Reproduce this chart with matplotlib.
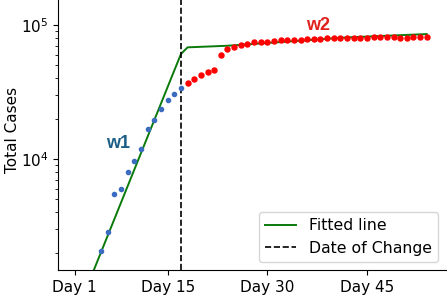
import matplotlib
matplotlib.use('Agg')
import matplotlib.pyplot as plt
import numpy as np

#####################   Data   ##################################
# wave 1 observations (days 5..17)
w1_days = [5, 6, 7, 8, 9, 10, 11, 12, 13, 14, 15, 16, 17]
w1_cases = [2056, 2851, 5450, 6012, 8040, 9710, 11870,
            16670, 19550, 23610, 27420, 30410, 34070]

# wave 2 observations (days 18..54)
w2_days = list(range(18, 55))
w2_cases = [36710, 39540, 42340, 44400, 46100, 59700, 66200, 68200, 70500,
            72500, 74200, 74600, 75060, 75530, 76840, 76840, 77280, 77720,
            78170, 78620, 79070, 79530, 79990, 79990, 79990, 80450, 80450,
            80450, 80920, 80920, 80920, 80920, 80450, 80450, 80920, 80920,
            80920]

# fitted piecewise line
fit_days = [1, 17, 18, 24, 42, 54]
fit_cases = [652, 60800, 68200, 70100, 80900, 85700]

change_day = 17

tick_days = [1, 15, 30, 45]
tick_labels = ['Day 1', 'Day 15', 'Day 30', 'Day 45']

################# PLOT ######################
fig = plt.figure(figsize=(4.47, 2.96), dpi=100)
ax = fig.add_axes([0.1298, 0.0878, 0.868, 0.9122])

ax.plot(w1_days, w1_cases, 'o', color='#3b6cc0', markersize=3.0, zorder=3)
ax.plot(w2_days, w2_cases, 'o', color='#ff0000', markersize=3.6, zorder=3)
ax.plot(fit_days, fit_cases, color='#0a7a0a', lw=1.4, label='Fitted line', zorder=2)
ax.axvline(change_day, color='black', ls='--', lw=1.2, label='Date of Change')

ax.set_yscale('log')
ax.set_ylim(1480, 154000)
ax.set_xlim(-1.5, 56.9)
ax.set_xticks(tick_days)
ax.set_xticklabels(tick_labels)
ax.tick_params(labelsize=11)
ax.set_ylabel('Total Cases', fontsize=11)
ax.yaxis.set_label_coords(-0.097, 0.52)

ax.spines['top'].set_visible(False)
ax.spines['right'].set_visible(False)

ax.text(7.6, 13150, 'w1', color='#1b5e86', fontsize=13, fontweight='bold',
        family='Liberation Sans', ha='center', va='center')
ax.text(37.6, 99100, 'w2', color='#e0201b', fontsize=13, fontweight='bold',
        family='Liberation Sans', ha='center', va='center')

ax.legend(loc='lower right', fontsize=11.3)

fig.savefig('out.png', dpi=100)
